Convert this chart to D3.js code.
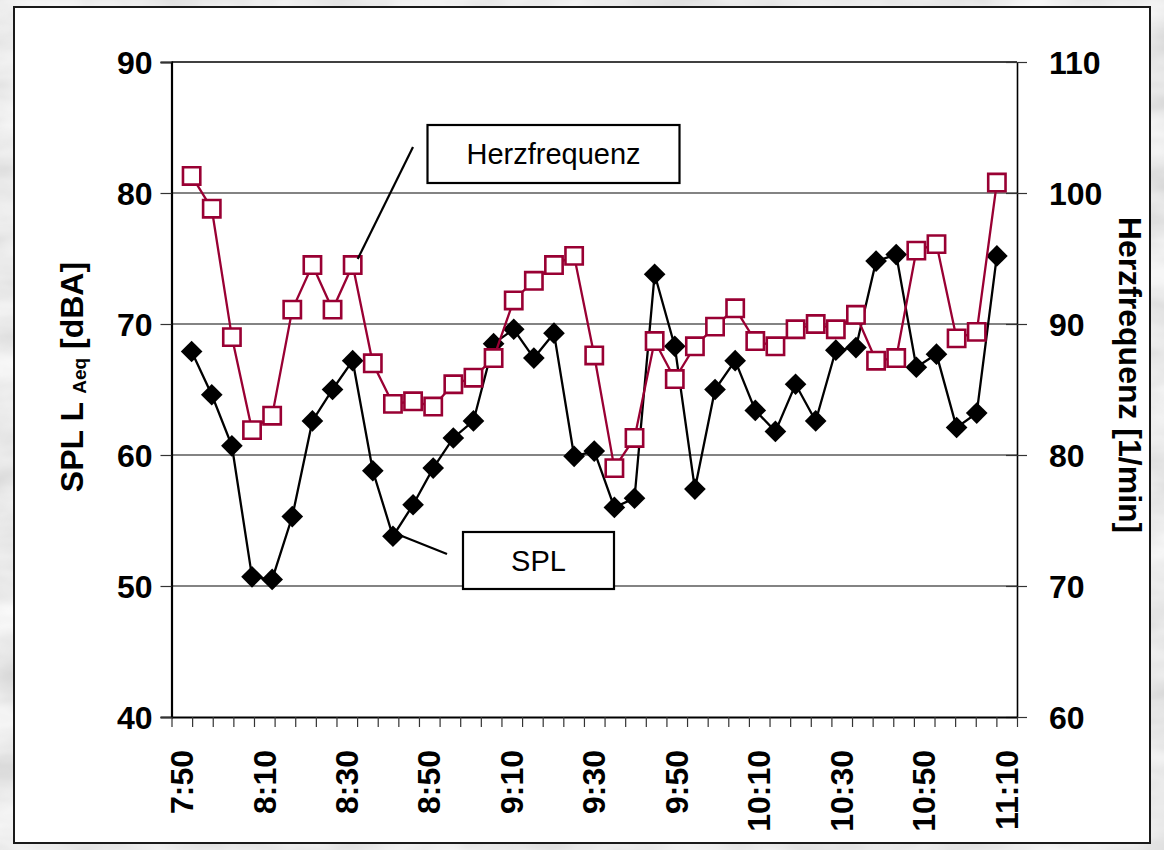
<!DOCTYPE html>
<html><head><meta charset="utf-8">
<script src="https://cdn.jsdelivr.net/npm/d3@7/dist/d3.min.js"></script>
<style>
body{margin:0;overflow:hidden;background:#d8d8d8}
svg{display:block}
text{font-family:"Liberation Sans",Arial,Helvetica,sans-serif}
</style>
</head><body>
<svg id="chart" width="1164" height="850"></svg>
<script>
// ---- data ----
const categories = ['7:50','7:55','8:00','8:05','8:10','8:15','8:20','8:25','8:30','8:35','8:40','8:45','8:50','8:55',
  '9:00','9:05','9:10','9:15','9:20','9:25','9:30','9:35','9:40','9:45','9:50','9:55',
  '10:00','10:05','10:10','10:15','10:20','10:25','10:30','10:35','10:40','10:45','10:50','10:55',
  '11:00','11:05','11:10'];
const xTickLabels = ['7:50','8:10','8:30','8:50','9:10','9:30','9:50','10:10','10:30','10:50','11:10'];
const splValues = [67.9,64.6,60.7,50.7,50.5,55.3,62.6,65.0,67.2,58.8,53.8,56.2,59.0,61.3,62.6,68.5,69.6,67.4,69.3,59.9,
  60.3,56.0,56.7,73.8,68.3,57.4,65.0,67.2,63.4,61.8,65.4,62.6,68.0,68.2,74.8,75.3,66.7,67.7,62.1,63.2,75.2];
const hrValues = [101.3,98.8,89.0,81.9,83.0,91.1,94.5,91.1,94.5,87.0,83.9,84.1,83.7,85.4,85.9,87.4,91.8,93.3,94.5,95.2,
  87.6,79.0,81.3,88.7,85.8,88.3,89.8,91.2,88.7,88.3,89.6,90.0,89.6,90.7,87.2,87.4,95.6,96.1,88.9,89.4,100.8];
const leftTicks = [40,50,60,70,80,90];
const rightTicks = [60,70,80,90,100,110];
const gridValues = [50,60,70,80];
const leftTitle = ['SPL L ','Aeq',' [dBA]'];
const rightTitle = 'Herzfrequenz [1/min]';
const hrLabel = 'Herzfrequenz';
const splLabel = 'SPL';

// ---- layout ----
const W = 1164, H = 850;
const P = {left:171.5, right:1017, top:62, bottom:717};
const RED = '#990033';
const FONT_BOLD = 32;

const svg = d3.select('#chart');
const defs = svg.append('defs');
const f = defs.append('filter').attr('id','marble').attr('x',0).attr('y',0).attr('width','100%').attr('height','100%');
f.append('feTurbulence').attr('type','fractalNoise').attr('baseFrequency','0.008 0.02').attr('numOctaves',4).attr('seed',7).attr('result','n');
f.append('feColorMatrix').attr('in','n').attr('type','matrix')
  .attr('values','0.45 0 0 0 0.6  0.45 0 0 0 0.6  0.45 0 0 0 0.6  0 0 0 0 1');

svg.append('rect').attr('width',W).attr('height',H).attr('fill','#d8d8d8');
svg.append('rect').attr('width',W).attr('height',H).attr('filter','url(#marble)');

// white chart area
svg.append('rect').attr('x',14).attr('y',7).attr('width',1136).attr('height',836)
  .attr('fill','#fff').attr('stroke','#1a1a1a').attr('stroke-width',2);

// scales
const xBand = d3.scaleBand().domain(categories).range([P.left,P.right]).padding(0);
const xAxisLin = d3.scaleLinear().domain([0,categories.length]).range([P.left,P.right]);
const xData = d3.scalePoint().domain(d3.range(splValues.length)).range([P.left,P.right]).padding(1);
const yL = d3.scaleLinear().domain([40,90]).range([P.bottom,P.top]);
const yR = d3.scaleLinear().domain([60,110]).range([P.bottom,P.top]);

// gridlines
svg.append('g').selectAll('line').data(gridValues).join('line')
  .attr('x1',P.left).attr('x2',P.right).attr('y1',d=>yL(d)).attr('y2',d=>yL(d))
  .attr('stroke','#5a5a5a').attr('stroke-width',1.3);

// plot frame top
svg.append('line').attr('x1',P.left).attr('x2',P.right).attr('y1',P.top).attr('y2',P.top).attr('stroke','#000').attr('stroke-width',1.5);

// left axis
const gL = svg.append('g').attr('transform',`translate(${P.left},0)`)
  .call(d3.axisLeft(yL).tickValues(leftTicks).tickSize(11).tickPadding(8).tickFormat(d3.format('d')));
gL.select('.domain').attr('stroke','#000').attr('stroke-width',2.2);
gL.selectAll('.tick line').attr('stroke','#333').attr('stroke-width',1.2);
gL.selectAll('.tick text').attr('font-size',FONT_BOLD).attr('font-weight','bold').attr('fill','#000')
  .attr('font-family','"Liberation Sans",Arial,sans-serif').attr('dy','0.36em');

// right axis
const gR = svg.append('g').attr('transform',`translate(${P.right},0)`)
  .call(d3.axisRight(yR).tickValues(rightTicks).tickSizeInner(10).tickSizeOuter(0).tickPadding(22).tickFormat(d3.format('d')));
gR.select('.domain').attr('stroke','#000').attr('stroke-width',1.6);
gR.selectAll('.tick line').attr('stroke','#333').attr('stroke-width',1.2).attr('x1',-11);
gR.selectAll('.tick text').attr('font-size',FONT_BOLD).attr('font-weight','bold').attr('fill','#000')
  .attr('font-family','"Liberation Sans",Arial,sans-serif').attr('dy','0.36em');

// bottom axis (ticks between categories)
const gB = svg.append('g').attr('transform',`translate(0,${P.bottom})`)
  .call(d3.axisBottom(xAxisLin).tickValues(d3.range(categories.length+1)).tickSize(10).tickSizeOuter(0).tickFormat(''));
gB.select('.domain').attr('stroke','#000').attr('stroke-width',2.2);
gB.selectAll('.tick line').attr('stroke','#333').attr('stroke-width',1.2);

// x labels at category centres
svg.append('g').selectAll('text').data(xTickLabels).join('text')
  .attr('transform',d=>`translate(${xBand(d)+xBand.bandwidth()/2},750) rotate(-90)`)
  .attr('text-anchor','end').attr('dy','0.35em')
  .attr('font-size',FONT_BOLD).attr('font-weight','bold').attr('fill','#000')
  .text(d=>d);

// axis titles
const lt = svg.append('text').attr('transform',`translate(83,377) rotate(-90)`)
  .attr('text-anchor','middle').attr('font-size',FONT_BOLD).attr('font-weight','bold');
lt.append('tspan').text(leftTitle[0]);
lt.append('tspan').attr('font-size',19).attr('dy',3).text(leftTitle[1]);
lt.append('tspan').attr('dy',-3).text(leftTitle[2]);

svg.append('text').attr('transform',`translate(1119,375) rotate(90)`)
  .attr('text-anchor','middle').attr('font-size',FONT_BOLD).attr('font-weight','bold').text(rightTitle);

// SPL series
const lineL = d3.line().x((d,i)=>xData(i)).y(d=>yL(d));
svg.append('path').datum(splValues).attr('d',lineL).attr('fill','none').attr('stroke','#000').attr('stroke-width',2.3);
const diamond = d3.symbol().type(d3.symbolSquare).size(235);
svg.append('g').selectAll('path').data(splValues).join('path')
  .attr('d',diamond).attr('transform',(d,i)=>`translate(${xData(i)},${yL(d)}) rotate(45)`).attr('fill','#000');

// HR series
const lineR = d3.line().x((d,i)=>xData(i)).y(d=>yR(d));
svg.append('path').datum(hrValues).attr('d',lineR).attr('fill','none').attr('stroke',RED).attr('stroke-width',2.3);
const sq = d3.symbol().type(d3.symbolSquare).size(300);
svg.append('g').selectAll('path').data(hrValues).join('path')
  .attr('d',sq).attr('transform',(d,i)=>`translate(${xData(i)},${yR(d)})`)
  .attr('fill','#fff').attr('stroke',RED).attr('stroke-width',2.6);

// annotations
const hx = xData(8), hy = yR(hrValues[8]);
svg.append('line').attr('x1',413).attr('y1',147).attr('x2',hx+5).attr('y2',hy-6).attr('stroke','#000').attr('stroke-width',2.2);
svg.append('rect').attr('x',427.5).attr('y',125).attr('width',252).attr('height',58)
  .attr('fill','#fff').attr('stroke','#000').attr('stroke-width',2.2);
svg.append('text').attr('x',553.5).attr('y',154).attr('dy','0.36em').attr('text-anchor','middle')
  .attr('font-size',29).attr('fill','#000').text(hrLabel);

const sx = xData(10), sy = yL(splValues[10]);
svg.append('line').attr('x1',sx+2).attr('y1',sy-3).attr('x2',447).attr('y2',554).attr('stroke','#000').attr('stroke-width',2.2);
svg.append('rect').attr('x',463).attr('y',532).attr('width',151).attr('height',57)
  .attr('fill','#fff').attr('stroke','#000').attr('stroke-width',2.2);
svg.append('text').attr('x',538.5).attr('y',560.5).attr('dy','0.36em').attr('text-anchor','middle')
  .attr('font-size',29).attr('fill','#000').text(splLabel);
</script>
</body></html>
